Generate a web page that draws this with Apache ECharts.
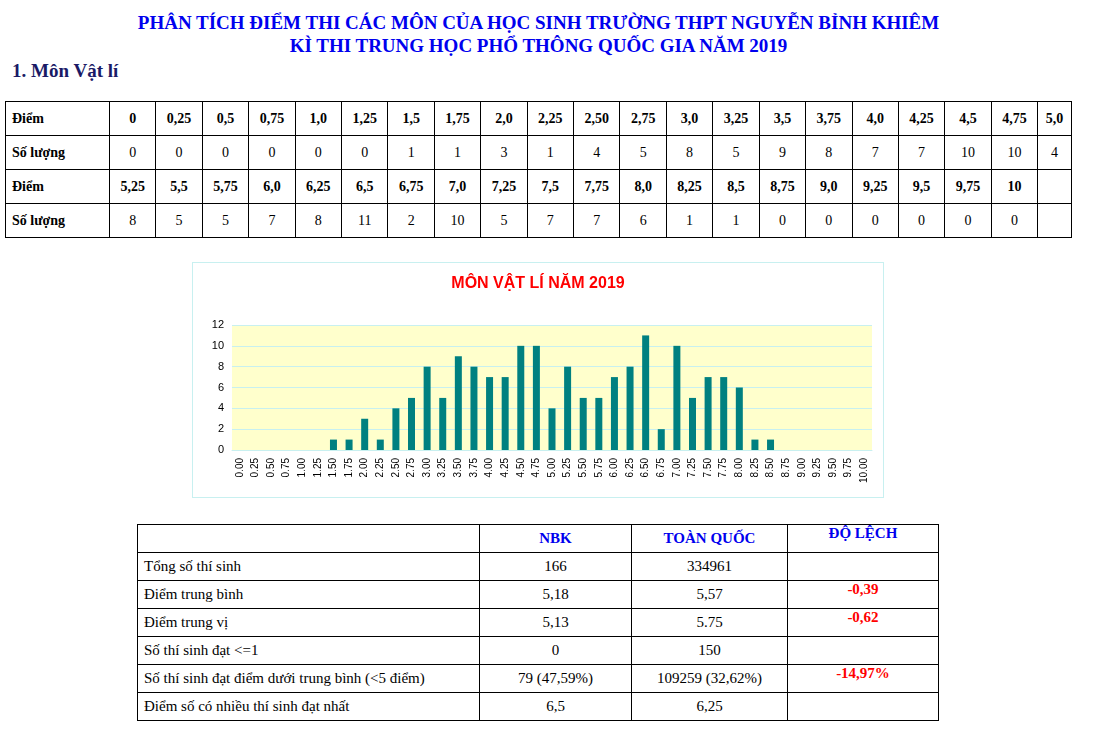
<!DOCTYPE html>
<html><head><meta charset="utf-8">
<script src="https://cdn.jsdelivr.net/npm/echarts@6/dist/echarts.min.js"></script>
<style>
body{margin:0;background:#fff;font-family:"Liberation Serif","Times New Roman",serif;width:1097px;height:732px;position:relative;overflow:hidden}
.t{position:absolute;left:0;width:1077px;text-align:center;color:#0000ee;font-weight:bold;font-size:19px}
table{border-collapse:collapse;position:absolute;font-family:"Liberation Serif",serif}
td{border:1px solid #000;text-align:center;padding:0;font-size:14px}
#t1 td{height:33px}
#t1 tr.h td{font-weight:bold}
#t1 td:first-child{text-align:left;padding-left:6px;font-weight:bold}
#t2 td{height:27px;font-size:15px}
#t2 td:first-child{text-align:left;padding-left:6px}
.hd{color:#0000ee;font-weight:bold}
.red{color:#ff0000;font-weight:bold}
#chart{position:absolute;left:192px;top:262px;width:692px;height:236px;border:1px solid #c8f0f0;box-sizing:border-box}
</style></head><body>
<div class="t" style="top:12px">PHÂN TÍCH ĐIỂM THI CÁC MÔN CỦA HỌC SINH TRƯỜNG THPT NGUYỄN BỈNH KHIÊM</div>
<div class="t" style="top:35px">KÌ THI TRUNG HỌC PHỔ THÔNG QUỐC GIA NĂM 2019</div>
<div style="position:absolute;left:12px;top:60px;font-size:19px;font-weight:bold;color:#1a1a66">1. Môn Vật lí</div>
<table id="t1" style="left:5px;top:101px;width:1067px"></table>
<div id="chart"></div>
<table id="t2" style="left:137px;top:524px;width:802px"></table>
<script>
const scoreLabels1=["0","0,25","0,5","0,75","1,0","1,25","1,5","1,75","2,0","2,25","2,50","2,75","3,0","3,25","3,5","3,75","4,0","4,25","4,5","4,75","5,0"];
const counts1=[0,0,0,0,0,0,1,1,3,1,4,5,8,5,9,8,7,7,10,10,4];
const scoreLabels2=["5,25","5,5","5,75","6,0","6,25","6,5","6,75","7,0","7,25","7,5","7,75","8,0","8,25","8,5","8,75","9,0","9,25","9,5","9,75","10",""];
const counts2=[8,5,5,7,8,11,2,10,5,7,7,6,1,1,0,0,0,0,0,0,""];
const chartCategories=["0.00","0.25","0.50","0.75","1.00","1.25","1.50","1.75","2.00","2.25","2.50","2.75","3.00","3.25","3.50","3.75","4.00","4.25","4.50","4.75","5.00","5.25","5.50","5.75","6.00","6.25","6.50","6.75","7.00","7.25","7.50","7.75","8.00","8.25","8.50","8.75","9.00","9.25","9.50","9.75","10.00"];
const chartValues=[0,0,0,0,0,0,1,1,3,1,4,5,8,5,9,8,7,7,10,10,4,8,5,5,7,8,11,2,10,5,7,7,6,1,1,0,0,0,0,0,0];
const statHeaders=["","NBK","TOÀN QUỐC","ĐỘ LỆCH"];
const statNames=["Tổng số thí sinh","Điểm trung bình","Điểm trung vị","Số thí sinh đạt <=1","Số thí sinh đạt điểm dưới trung bình (<5 điểm)","Điểm số có nhiều thí sinh đạt nhất"];
const statNBK=["166","5,18","5,13","0","79 (47,59%)","6,5"];
const statNation=["334961","5,57","5.75","150","109259 (32,62%)","6,25"];
const statDiff=["","-0,39","-0,62","","-14,97%",""];

let h='';
h+='<tr class="h"><td style="width:97px">Điểm</td>'+scoreLabels1.map(s=>'<td>'+s+'</td>').join('')+'</tr>';
h+='<tr><td>Số lượng</td>'+counts1.map(s=>'<td>'+s+'</td>').join('')+'</tr>';
h+='<tr class="h"><td>Điểm</td>'+scoreLabels2.map(s=>'<td>'+s+'</td>').join('')+'</tr>';
h+='<tr><td>Số lượng</td>'+counts2.map(s=>'<td>'+s+'</td>').join('')+'</tr>';
document.getElementById('t1').innerHTML=h;

let g='<tr><td style="width:335px"></td><td class="hd" style="width:151px">'+statHeaders[1]+'</td><td class="hd" style="width:155px">'+statHeaders[2]+'</td><td class="hd" style="vertical-align:top">'+statHeaders[3]+'</td></tr>';
for(let i=0;i<statNames.length;i++){
 g+='<tr><td>'+statNames[i]+'</td><td>'+statNBK[i]+'</td><td>'+statNation[i]+'</td><td class="red" style="vertical-align:top">'+statDiff[i]+'</td></tr>';
}
document.getElementById('t2').innerHTML=g;

const c=echarts.init(document.getElementById('chart'));
c.setOption({
 animation:false,
 title:{text:'MÔN VẬT LÍ NĂM 2019',left:'center',top:8,textStyle:{color:'#ff0000',fontFamily:'Liberation Sans, Arial',fontWeight:'bold',fontSize:16}},
 grid:{left:39,right:11,top:62,bottom:47,backgroundColor:'#ffffcc',show:true,borderWidth:0},
 xAxis:{type:'category',data:chartCategories,axisTick:{show:false},axisLine:{lineStyle:{color:'#c8f0f0'}},
  axisLabel:{rotate:90,interval:0,fontSize:10,color:'#000',fontFamily:'Liberation Sans, Arial'}},
 yAxis:{type:'value',min:0,max:12,interval:2,axisLabel:{fontSize:11,color:'#000',fontFamily:'Liberation Sans, Arial'},
  splitLine:{lineStyle:{color:'#c8f0f0'}}},
 series:[{type:'bar',data:chartValues,barWidth:7,itemStyle:{color:'#008080'}}]
});
</script>
</body></html>
